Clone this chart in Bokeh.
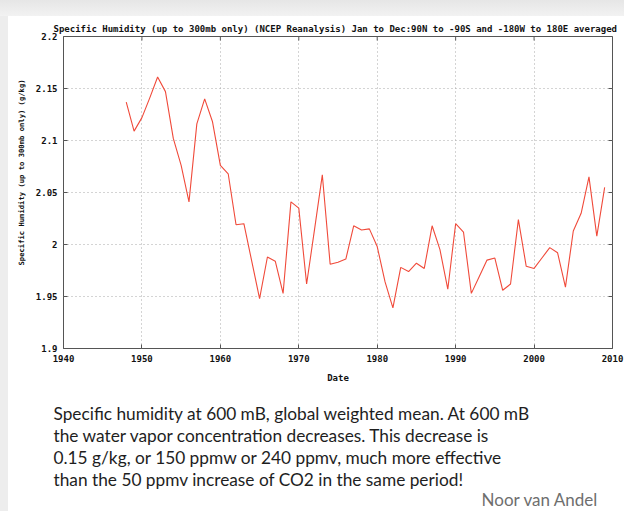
from bokeh.plotting import figure
from bokeh.models import LinearAxis, Range1d, FixedTicker, Grid, Title, Label
from bokeh.layouts import column
from bokeh.embed import file_html
from bokeh.resources import INLINE

years = list(range(1948, 2010))
humidity = [
    2.137, 2.109, 2.122, 2.141, 2.161, 2.147, 2.102, 2.076, 2.041, 2.116,
    2.140, 2.118, 2.076, 2.068, 2.019, 2.020, 1.984, 1.948, 1.988, 1.984,
    1.953, 2.041, 2.035, 1.962, 2.014, 2.067, 1.981, 1.983, 1.986, 2.018,
    2.014, 2.015, 1.998, 1.964, 1.939, 1.978, 1.974, 1.982, 1.977, 2.018,
    1.995, 1.957, 2.020, 2.012, 1.953, 1.969, 1.985, 1.987, 1.956, 1.962,
    2.024, 1.979, 1.977, 1.987, 1.997, 1.992, 1.959, 2.013, 2.030, 2.065,
    2.008, 2.055,
]
x_ticks = [1940, 1950, 1960, 1970, 1980, 1990, 2000, 2010]
y_ticks = [1.9, 1.95, 2.0, 2.05, 2.1, 2.15, 2.2]
y_tick_labels = ["1.9", "1.95", "2", "2.05", "2.1", "2.15", "2.2"]

title_text = ("Specific Humidity (up to 300mb only) (NCEP Reanalysis) "
              "Jan to Dec:90N to -90S and -180W to 180E averaged")
y_label_text = "Specific Humidity (up to 300mb only) (g/kg)"
x_label_text = "Date"
caption_lines = [
    "Specific humidity at 600 mB, global weighted mean. At 600 mB",
    "the water vapor concentration decreases. This decrease is",
    "0.15 g/kg, or 150 ppmw or 240 ppmv, much more effective",
    "than the 50 ppmv increase of CO2 in the same period!",
]
author = "Noor van Andel"

MONO = "DejaVu Sans Mono"
PAGE_W, PAGE_H = 624, 511
OFF_X, OFF_Y = 8, 16            # card offset inside the page
SPLIT = 390                     # page y where the caption panel starts
W = PAGE_W - OFF_X
H = SPLIT - OFF_Y
FL, FR, FT, FB = 59 - OFF_X, 612 - OFF_X, 36 - OFF_Y, 348 - OFF_Y
X0, X1, Y0, Y1 = 1940, 2010, 1.9, 2.2
TICK = 4                        # tick length in pixels

p = figure(width=W, height=H, output_backend="svg", toolbar_location=None,
           x_range=Range1d(X0, X1), y_range=Range1d(Y0, Y1),
           min_border_left=FL, min_border_right=W - FR, min_border_top=FT,
           min_border_bottom=H - FB, x_axis_type=None, y_axis_type=None,
           margin=(OFF_Y, 0, 0, OFF_X))
p.background_fill_color = "white"
p.border_fill_color = "white"
p.outline_line_color = "#555555"
p.outline_line_width = 1

# title (left aligned with an offset so that it spans like the original)
p.title.text = title_text
p.title.text_font = MONO
p.title.text_font_style = "bold"
p.title.text_font_size = "9px"
p.title.text_color = "#111111"
p.title.align = "left"
p.title.offset = -10
p.title.standoff = 5


def style_axis(ax, ticks, overrides=None):
    ax.ticker = FixedTicker(ticks=ticks)
    ax.axis_line_color = None
    ax.major_tick_in = TICK
    ax.major_tick_out = 0
    ax.major_tick_line_color = "#555555"
    ax.minor_tick_line_color = None
    ax.major_label_text_font = MONO
    ax.major_label_text_font_style = "bold"
    ax.major_label_text_font_size = "9px"
    ax.major_label_text_color = "#111111"
    ax.major_label_standoff = 6
    if overrides:
        ax.major_label_overrides = overrides


xb = LinearAxis(axis_label=x_label_text)
style_axis(xb, x_ticks)
xb.axis_label_standoff = 8
xb.axis_label_text_font = MONO
xb.axis_label_text_font_style = "bold"
xb.axis_label_text_font_size = "9px"
xb.axis_label_text_color = "#111111"
p.add_layout(xb, "below")

yl = LinearAxis()
style_axis(yl, y_ticks, {t: s for t, s in zip(y_ticks, y_tick_labels)})
p.add_layout(yl, "left")

# y axis title, starting above the frame bottom as in the original
p.add_layout(Title(text=y_label_text, text_font=MONO, text_font_style="bold",
                   text_font_size="7.2px", text_color="#111111",
                   align="left", offset=83, standoff=13), "left")

gx = Grid(dimension=0, ticker=FixedTicker(ticks=x_ticks[1:-1]),
          grid_line_color="#a8a8a8", grid_line_dash="1 3", grid_line_width=1)
gy = Grid(dimension=1, ticker=FixedTicker(ticks=y_ticks[1:-1]),
          grid_line_color="#a8a8a8", grid_line_dash="1 3", grid_line_width=1)
p.add_layout(gx)
p.add_layout(gy)

# mirrored inward ticks on the top and right edges
tick_dx = TICK * (X1 - X0) / (FR - FL)
tick_dy = TICK * (Y1 - Y0) / (FB - FT)
p.segment(x0=x_ticks, y0=[Y1] * len(x_ticks), x1=x_ticks,
          y1=[Y1 - tick_dy] * len(x_ticks), line_color="#555555", line_width=1)
p.segment(x0=[X1] * len(y_ticks), y0=y_ticks, x1=[X1 - tick_dx] * len(y_ticks),
          y1=y_ticks, line_color="#555555", line_width=1)

p.line(years, humidity, line_color="#f04a3a", line_width=1.1)

# caption panel: a plain canvas whose ranges are in pixels (y downwards)
CH = PAGE_H - SPLIT
cap = figure(width=W, height=CH, output_backend="svg", toolbar_location=None,
             x_range=Range1d(0, W), y_range=Range1d(CH, 0),
             min_border=0, min_border_left=0, min_border_right=0,
             min_border_top=0, min_border_bottom=0,
             x_axis_type=None, y_axis_type=None,
             title_location=None, margin=(0, 0, 0, OFF_X))
cap.outline_line_color = None
cap.background_fill_color = "white"
cap.border_fill_color = "white"
cap.xgrid.visible = False
cap.ygrid.visible = False

for i, line in enumerate(caption_lines):
    cap.add_layout(Label(x=53 - OFF_X, y=413 + 22 * i - SPLIT, text=line,
                         text_font="Lato", text_font_size="17.3px",
                         text_align="left", text_baseline="middle",
                         text_color="#1e1e1e"))
cap.add_layout(Label(x=598 - OFF_X, y=499 - SPLIT, text=author,
                     text_font="Lato", text_font_size="17px",
                     text_align="right", text_baseline="middle",
                     text_color="#6e6e6e"))

# light grey shadow only along the top and left edges of the card
TOP_BG = {"background": "linear-gradient(to bottom, #e6e6e6 0px, #f2f2f2 16px, "
                        "transparent 16px), linear-gradient(to right, #ededed 8px, white 8px)"}
BOTTOM_BG = {"background": "linear-gradient(to right, #ededed 8px, white 8px)"}
top = column(p, width=PAGE_W, height=SPLIT, spacing=0, styles=TOP_BG)
bottom = column(cap, width=PAGE_W, height=CH, spacing=0, styles=BOTTOM_BG)

open("out.html", "w").write(file_html([top, bottom], INLINE))
